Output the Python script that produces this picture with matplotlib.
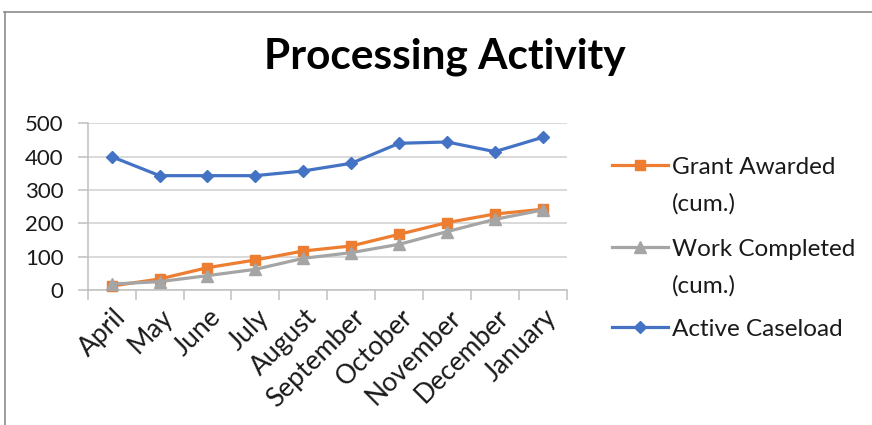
import matplotlib
matplotlib.use('Agg')
import matplotlib.pyplot as plt
from matplotlib.lines import Line2D
import matplotlib.transforms as mtransforms

months = ['April', 'May', 'June', 'July', 'August', 'September',
          'October', 'November', 'December', 'January']
grant_awarded = [12, 33, 67, 90, 117, 132, 167, 202, 228, 242]
work_completed = [18, 25, 43, 62, 95, 112, 137, 175, 212, 240]
active_caseload = [400, 343, 343, 343, 357, 380, 440, 444, 415, 458]
series_labels = ['Grant Awarded\n(cum.)', 'Work Completed\n(cum.)', 'Active Caseload']
y_ticks = [0, 100, 200, 300, 400, 500]
title = 'Processing Activity'

plt.rcParams['font.family'] = ['Lato', 'DejaVu Sans']

W, H = 872, 425
fig = plt.figure(figsize=(W / 100, H / 100), dpi=100)
fig.patch.set_facecolor('white')

def fx(px):
    return px / W

def fy(py):
    return 1 - py / H

# chart area border (top and left visible)
fig.add_artist(Line2D([fx(4), fx(W)], [fy(11.5), fy(11.5)], color='#8c8c8c', lw=1.2))
fig.add_artist(Line2D([fx(4.5), fx(4.5)], [fy(11.5), fy(H)], color='#8c8c8c', lw=1.2))

ax = fig.add_axes([fx(87.7), fy(290), fx(566.7) - fx(87.7), fy(123.3) - fy(290)])

colors = ['#ED7D31', '#A5A5A5', '#4472C4']
markers = ['s', '^', 'D']
msizes = [7.2, 8.2, 6.6]
data = [grant_awarded, work_completed, active_caseload]
xs = list(range(len(months)))
for vals, c, m, ms in zip(data, colors, markers, msizes):
    ax.plot(xs, vals, color=c, lw=2.3, marker=m, ms=ms, mec=c, mfc=c,
            solid_joinstyle='round', zorder=3, clip_on=False)

ax.set_xlim(-0.5, len(months) - 0.5)
ax.set_ylim(0, 500)
ax.set_yticks(y_ticks)
ax.set_yticklabels([str(v) for v in y_ticks])
ax.grid(axis='y', color='#d0d0d0', lw=1.1, zorder=0)
ax.set_axisbelow(True)

for s in ['top', 'right']:
    ax.spines[s].set_visible(False)
for s in ['left', 'bottom']:
    ax.spines[s].set_color('#c0c0c0')
    ax.spines[s].set_linewidth(1.1)

ax.tick_params(axis='y', length=7, width=1.1, color='#c0c0c0', pad=10.5,
               labelsize=16, labelcolor='#1a1a1a')
ax.set_xticks(xs)
ax.set_xticklabels(months, rotation=45, ha='right', rotation_mode='anchor')
ax.set_xticks([i - 0.5 for i in range(len(months) + 1)], minor=True)
ax.tick_params(axis='x', which='major', length=0, pad=10.5, labelsize=19, labelcolor='#1a1a1a')
ax.tick_params(axis='x', which='minor', length=7.5, width=1.1, color='#c0c0c0')
offset = mtransforms.ScaledTranslation(1 / 100, 0, fig.dpi_scale_trans)
for lab in ax.get_xticklabels():
    lab.set_transform(lab.get_transform() + offset)

fig.text(fx(445), fy(69), title, ha='center', va='baseline',
         fontsize=30.5, fontweight='bold', color='#000000')

# legend
leg_first_y = [165, 247, 327]
line_pitch = 36.5
for lbl, c, m, ms, y0 in zip(series_labels, colors, markers, msizes, leg_first_y):
    fig.add_artist(Line2D([fx(612), fx(668)], [fy(y0), fy(y0)], color=c, lw=2.3))
    fig.add_artist(Line2D([fx(640)], [fy(y0)], color=c, marker=m, ms=ms, mec=c, mfc=c))
    for k, line in enumerate(lbl.split('\n')):
        fig.text(fx(672), fy(y0 + k * line_pitch), line, ha='left', va='center_baseline',
                 fontsize=17.5, color='#1a1a1a')

fig.savefig('out.png', dpi=100, facecolor='white')
